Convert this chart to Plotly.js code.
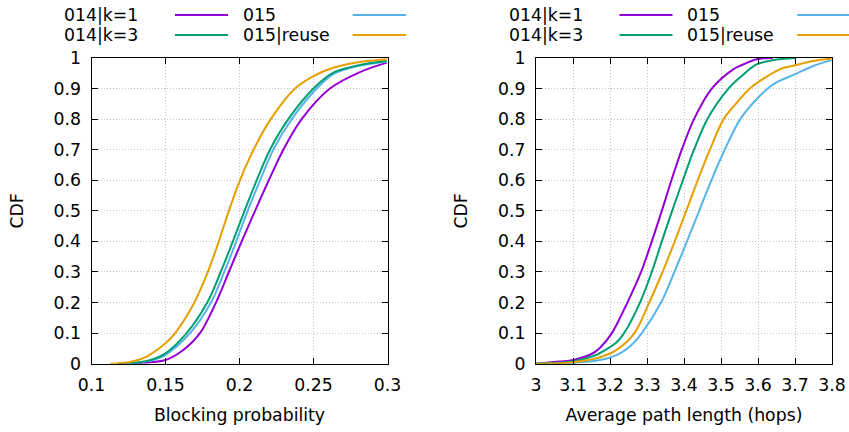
<!DOCTYPE html>
<html>
<head>
<meta charset="utf-8">
<script src="https://cdn.plot.ly/plotly-3.0.1.min.js"></script>
<style>html,body{margin:0;padding:0;background:#fff}#chart{width:849px;height:432px}</style>
</head>
<body>
<div id="chart"></div>
<script>
// Series names and colours (gnuplot default palette)
const seriesNames = ["014|k=1", "015", "014|k=3", "015|reuse"];
const seriesColors = ["#9400d3", "#56b4e9", "#009e73", "#e69f00"];

// Left panel: Blocking probability CDFs
const blk_k1_x = [0.12, 0.135, 0.15, 0.162, 0.1733, 0.1841, 0.1928, 0.2015, 0.2105, 0.2198, 0.2296, 0.242, 0.2611, 0.2814, 0.2995];
const blk_k1_y = [0, 0.003, 0.012, 0.045, 0.1, 0.2, 0.3, 0.4, 0.5, 0.6, 0.7, 0.8, 0.9, 0.954, 0.985];
const blk_015_x = [0.118, 0.13, 0.14, 0.15, 0.1666, 0.1807, 0.1897, 0.1978, 0.2055, 0.2139, 0.2228, 0.2353, 0.2522, 0.2634, 0.2814, 0.2995];
const blk_015_y = [0, 0.003, 0.01, 0.029, 0.1, 0.2, 0.3, 0.4, 0.5, 0.6, 0.7, 0.8, 0.9, 0.947, 0.975, 0.988];
const blk_k3_x = [0.118, 0.13, 0.14, 0.15, 0.1643, 0.1782, 0.1873, 0.1955, 0.2034, 0.2116, 0.2206, 0.233, 0.25, 0.2634, 0.2814, 0.2995];
const blk_k3_y = [0, 0.003, 0.012, 0.034, 0.1, 0.2, 0.3, 0.4, 0.5, 0.6, 0.7, 0.8, 0.9, 0.952, 0.977, 0.99];
const blk_reuse_x = [0.1125, 0.125, 0.135, 0.15, 0.1565, 0.1695, 0.1786, 0.1860, 0.1928, 0.2003, 0.2095, 0.2211, 0.2375, 0.25, 0.2634, 0.2814, 0.2995];
const blk_reuse_y = [0, 0.005, 0.018, 0.067, 0.1, 0.2, 0.3, 0.4, 0.5, 0.6, 0.7, 0.8, 0.9, 0.941, 0.968, 0.987, 0.996];

// Right panel: Average path length CDFs
const apl_k1_x = [3.0, 3.065, 3.1, 3.155, 3.173, 3.205, 3.247, 3.284, 3.313, 3.34, 3.366, 3.394, 3.427, 3.475, 3.533, 3.551, 3.596, 3.64];
const apl_k1_y = [0, 0.007, 0.012, 0.035, 0.052, 0.1, 0.2, 0.3, 0.4, 0.5, 0.6, 0.7, 0.8, 0.9, 0.963, 0.974, 0.996, 1.0];
const apl_015_x = [3.0, 3.1, 3.173, 3.227, 3.263, 3.286, 3.338, 3.374, 3.408, 3.441, 3.474, 3.51, 3.552, 3.6, 3.641, 3.7, 3.749, 3.799];
const apl_015_y = [0, 0.003, 0.012, 0.034, 0.067, 0.1, 0.2, 0.3, 0.4, 0.5, 0.6, 0.7, 0.8, 0.87, 0.914, 0.947, 0.974, 0.993];
const apl_k3_x = [3.0, 3.1, 3.155, 3.173, 3.218, 3.238, 3.281, 3.313, 3.34, 3.368, 3.397, 3.427, 3.463, 3.52, 3.551, 3.596, 3.641, 3.7];
const apl_k3_y = [0, 0.007, 0.025, 0.035, 0.07, 0.1, 0.2, 0.3, 0.4, 0.5, 0.6, 0.7, 0.8, 0.9, 0.936, 0.979, 0.993, 1.0];
const apl_reuse_x = [3.0, 3.1, 3.173, 3.218, 3.266, 3.306, 3.342, 3.375, 3.406, 3.437, 3.47, 3.507, 3.54, 3.578, 3.605, 3.659, 3.7, 3.749, 3.799];
const apl_reuse_y = [0, 0.005, 0.021, 0.045, 0.1, 0.2, 0.3, 0.4, 0.5, 0.6, 0.7, 0.8, 0.85, 0.9, 0.925, 0.963, 0.976, 0.99, 0.998];

const leftX = [blk_k1_x, blk_015_x, blk_k3_x, blk_reuse_x];
const leftY = [blk_k1_y, blk_015_y, blk_k3_y, blk_reuse_y];
const rightX = [apl_k1_x, apl_015_x, apl_k3_x, apl_reuse_x];
const rightY = [apl_k1_y, apl_015_y, apl_k3_y, apl_reuse_y];

const FONT = "DejaVu Sans, Verdana, sans-serif";
const FS = 17.3;
const W = 849, H = 432;

const traces = [];
for (let i = 0; i < 4; i++) {
  traces.push({x: leftX[i], y: leftY[i], xaxis: "x", yaxis: "y", type: "scatter", mode: "lines",
    name: seriesNames[i], showlegend: false, line: {color: seriesColors[i], width: 2, shape: "spline", smoothing: 0.9}});
}
for (let i = 0; i < 4; i++) {
  traces.push({x: rightX[i], y: rightY[i], xaxis: "x2", yaxis: "y2", type: "scatter", mode: "lines",
    name: seriesNames[i], showlegend: false, line: {color: seriesColors[i], width: 2, shape: "spline", smoothing: 0.9}});
}

const yDom = [(H - 363.7) / H, (H - 58) / H];
const commonAxis = {
  showline: true, linecolor: "#000", linewidth: 1, mirror: "allticks",
  ticks: "inside", ticklen: 6, tickcolor: "#000", tickwidth: 1,
  showgrid: true, gridcolor: "#c4c4c4", griddash: "1px,2px", gridwidth: 1,
  zeroline: false, tickfont: {family: FONT, size: FS, color: "#000"},
  automargin: false, ticklabelstandoff: 6
};
const yAxisBase = Object.assign({}, commonAxis, {range: [0, 1], dtick: 0.1, tick0: 0,
  title: {text: "CDF", font: {family: FONT, size: FS, color: "#000"}, standoff: 25}});

// Legend drawn gnuplot-style: text followed by line sample
const legendCols = [[0, 2], [1, 3]];
const colTextX = [62.3, 240.7];
const colLineX = [[175, 228], [352.7, 406]];
const rowY = [15, 35];
const panelShift = [0, 444.5];
const annotations = [];
const shapes = [];
panelShift.forEach(sh => {
  legendCols.forEach((col, c) => {
    col.forEach((si, r) => {
      annotations.push({xref: "paper", yref: "paper", x: (colTextX[c] + sh) / W, y: 1 - rowY[r] / H,
        xanchor: "left", yanchor: "middle", showarrow: false, text: seriesNames[si],
        font: {family: FONT, size: FS, color: "#000"}});
      shapes.push({type: "line", xref: "paper", yref: "paper",
        x0: (colLineX[c][0] + sh) / W, x1: Math.min(colLineX[c][1] + sh, W) / W,
        y0: 1 - rowY[r] / H, y1: 1 - rowY[r] / H, line: {color: seriesColors[si], width: 2}});
    });
  });
});

const layout = {
  width: W, height: H, margin: {l: 0, r: 0, t: 0, b: 0},
  paper_bgcolor: "#fff", plot_bgcolor: "#fff", showlegend: false,
  font: {family: FONT, size: FS, color: "#000"},
  xaxis: Object.assign({}, commonAxis, {domain: [91.5 / W, 387.5 / W], range: [0.1, 0.3], dtick: 0.05, tick0: 0.1,
    anchor: "y", title: {text: "Blocking probability", font: {family: FONT, size: FS, color: "#000"}, standoff: 14}}),
  yaxis: Object.assign({}, yAxisBase, {domain: yDom, anchor: "x"}),
  xaxis2: Object.assign({}, commonAxis, {domain: [536 / W, 832 / W], range: [3, 3.8], dtick: 0.1, tick0: 3,
    anchor: "y2", title: {text: "Average path length (hops)", font: {family: FONT, size: FS, color: "#000"}, standoff: 14}}),
  yaxis2: Object.assign({}, yAxisBase, {domain: yDom, anchor: "x2"}),
  annotations: annotations, shapes: shapes
};

Plotly.newPlot("chart", traces, layout, {staticPlot: true, displayModeBar: false});
</script>
</body>
</html>
